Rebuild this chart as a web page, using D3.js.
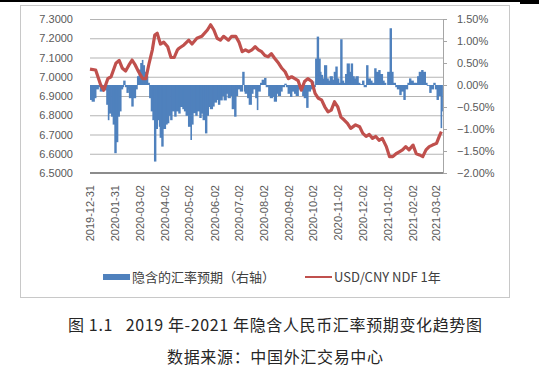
<!DOCTYPE html>
<html>
  <head>
    <meta charset="utf-8">
    <script src="https://cdn.jsdelivr.net/npm/d3@7/dist/d3.min.js"></script>
    <style>
      body { margin: 0; background: #fff; }
      .axis text { fill: #595959; font-family: "Liberation Sans", Arial, sans-serif; font-size: 11px; }
      .grid line { stroke: #b4b4b4; stroke-width: 1.2; }
      .legend text { fill: #404040; font-family: "Noto Sans CJK SC", sans-serif; font-size: 13px; }
      .caption { fill: #262626; font-family: "Noto Sans CJK SC", sans-serif; font-size: 16px; }
    </style>
  </head>
  <body>
    <script>
      // x axis tick labels
      var tickDates = ["2019-12-31", "2020-01-31", "2020-03-02", "2020-04-02", "2020-05-02",
        "2020-06-02", "2020-07-02", "2020-08-02", "2020-09-02", "2020-10-02", "2020-11-02",
        "2020-12-02", "2021-01-02", "2021-02-02", "2021-03-02"];

      // USD/CNY NDF 1y (left axis)
      var lineDates = ["2019-12-31", "2020-01-07", "2020-01-13", "2020-01-17", "2020-01-22", "2020-01-26",
        "2020-02-01", "2020-02-05", "2020-02-09", "2020-02-13", "2020-02-17", "2020-02-21", "2020-02-25",
        "2020-02-29", "2020-03-05", "2020-03-09", "2020-03-13", "2020-03-17", "2020-03-20", "2020-03-23",
        "2020-03-27", "2020-03-31", "2020-04-05", "2020-04-09", "2020-04-13", "2020-04-17", "2020-04-19",
        "2020-04-25", "2020-05-01", "2020-05-05", "2020-05-11", "2020-05-17", "2020-05-24", "2020-05-28",
        "2020-06-01", "2020-06-05", "2020-06-09", "2020-06-13", "2020-06-19", "2020-06-23", "2020-06-28",
        "2020-07-02", "2020-07-06", "2020-07-10", "2020-07-14", "2020-07-18", "2020-07-22", "2020-07-26",
        "2020-07-30", "2020-08-03", "2020-08-07", "2020-08-11", "2020-08-15", "2020-08-20", "2020-08-24",
        "2020-08-28", "2020-09-01", "2020-09-05", "2020-09-09", "2020-09-13", "2020-09-17", "2020-09-21",
        "2020-09-25", "2020-09-30", "2020-10-04", "2020-10-08", "2020-10-12", "2020-10-16", "2020-10-20",
        "2020-10-24", "2020-10-28", "2020-11-01", "2020-11-05", "2020-11-09", "2020-11-13", "2020-11-17",
        "2020-11-23", "2020-11-28", "2020-12-02", "2020-12-06", "2020-12-10", "2020-12-14", "2020-12-18",
        "2020-12-22", "2020-12-26", "2020-12-31", "2021-01-04", "2021-01-08", "2021-01-12", "2021-01-16",
        "2021-01-20", "2021-01-24", "2021-01-28", "2021-02-02", "2021-02-06", "2021-02-10", "2021-02-14",
        "2021-02-18", "2021-02-22", "2021-02-26", "2021-03-03", "2021-03-07", "2021-03-09"];
      var lineValues = [7.040, 7.035, 6.960, 6.930, 6.990, 7.000,
        7.070, 7.085, 7.044, 7.030, 7.060, 7.087, 7.060,
        7.026, 6.990, 6.990, 7.070, 7.140, 7.217, 7.226,
        7.170, 7.180, 7.156, 7.100, 7.100, 7.140, 7.148,
        7.165, 7.190, 7.170, 7.200, 7.210, 7.243, 7.270,
        7.243, 7.200, 7.190, 7.210, 7.190, 7.210, 7.210,
        7.180, 7.130, 7.140, 7.130, 7.140, 7.156, 7.140,
        7.130, 7.110, 7.104, 7.120, 7.096, 7.070, 7.044,
        7.026, 6.990, 7.000, 6.990, 6.980, 6.930, 6.975,
        6.990, 6.975, 6.914, 6.888, 6.880, 6.844, 6.818,
        6.827, 6.870, 6.844, 6.790, 6.775, 6.758, 6.732,
        6.750, 6.740, 6.706, 6.690, 6.700, 6.680, 6.690,
        6.670, 6.680, 6.637, 6.585, 6.585, 6.600, 6.610,
        6.620, 6.637, 6.620, 6.645, 6.600, 6.594, 6.585,
        6.620, 6.637, 6.645, 6.654, 6.697, 6.715];

      // implied expectation, % (right axis)
      var barDates = ["2019-12-31", "2020-01-02", "2020-01-05", "2020-01-07", "2020-01-10", "2020-01-12",
        "2020-01-15", "2020-01-17", "2020-01-20", "2020-01-22", "2020-01-23", "2020-01-26", "2020-01-28",
        "2020-01-30", "2020-02-01", "2020-02-03", "2020-02-05", "2020-02-07", "2020-02-09", "2020-02-10",
        "2020-02-12", "2020-02-14", "2020-02-16", "2020-02-17", "2020-02-20", "2020-02-22", "2020-02-25",
        "2020-02-27", "2020-02-29", "2020-03-02", "2020-03-04", "2020-03-05", "2020-03-07", "2020-03-09",
        "2020-03-11", "2020-03-13", "2020-03-15", "2020-03-17", "2020-03-19", "2020-03-21", "2020-03-23",
        "2020-03-25", "2020-03-26", "2020-03-28", "2020-03-30", "2020-04-02", "2020-04-04", "2020-04-06",
        "2020-04-08", "2020-04-10", "2020-04-13", "2020-04-15", "2020-04-18", "2020-04-20", "2020-04-23",
        "2020-04-25", "2020-04-27", "2020-04-30", "2020-05-03", "2020-05-04", "2020-05-06", "2020-05-09",
        "2020-05-11", "2020-05-14", "2020-05-16", "2020-05-18", "2020-05-21", "2020-05-23", "2020-05-25",
        "2020-05-27", "2020-05-30", "2020-06-01", "2020-06-04", "2020-06-06", "2020-06-08", "2020-06-11",
        "2020-06-13", "2020-06-16", "2020-06-18", "2020-06-21", "2020-06-23", "2020-06-26", "2020-06-28",
        "2020-06-30", "2020-07-03", "2020-07-06", "2020-07-08", "2020-07-09", "2020-07-12", "2020-07-14",
        "2020-07-17", "2020-07-19", "2020-07-22", "2020-07-24", "2020-07-25", "2020-07-28", "2020-07-30",
        "2020-08-02", "2020-08-04", "2020-08-07", "2020-08-09", "2020-08-12", "2020-08-14", "2020-08-17",
        "2020-08-19", "2020-08-22", "2020-08-24", "2020-08-27", "2020-08-29", "2020-08-31", "2020-09-03",
        "2020-09-05", "2020-09-08", "2020-09-10", "2020-09-13", "2020-09-15", "2020-09-18", "2020-09-20",
        "2020-09-23", "2020-09-25", "2020-09-28", "2020-09-30", "2020-10-02", "2020-10-04", "2020-10-06",
        "2020-10-08", "2020-10-10", "2020-10-11", "2020-10-13", "2020-10-15", "2020-10-18", "2020-10-20",
        "2020-10-22", "2020-10-25", "2020-10-27", "2020-10-29", "2020-10-31", "2020-11-02", "2020-11-04",
        "2020-11-06", "2020-11-08", "2020-11-10", "2020-11-12", "2020-11-15", "2020-11-17", "2020-11-19",
        "2020-11-21", "2020-11-23", "2020-11-26", "2020-11-28", "2020-12-01", "2020-12-03", "2020-12-06",
        "2020-12-08", "2020-12-11", "2020-12-13", "2020-12-16", "2020-12-18", "2020-12-21", "2020-12-23",
        "2020-12-26", "2020-12-28", "2020-12-30", "2021-01-01", "2021-01-04", "2021-01-06", "2021-01-08",
        "2021-01-11", "2021-01-13", "2021-01-16", "2021-01-18", "2021-01-21", "2021-01-23", "2021-01-26",
        "2021-01-28", "2021-01-30", "2021-02-02", "2021-02-04", "2021-02-07", "2021-02-09", "2021-02-12",
        "2021-02-14", "2021-02-17", "2021-02-19", "2021-02-22", "2021-02-24", "2021-02-27", "2021-03-01",
        "2021-03-03", "2021-03-05", "2021-03-08", "2021-03-09"];
      var barValues = [-0.34, -0.38, -0.30, -0.10, -0.05, -0.15,
        -0.08, -0.12, -0.45, -0.80, -0.65, -0.72, -0.90,
        -1.55, -1.30, -0.72, -0.60, -0.10, -0.05, 0.10,
        -0.05, -0.18, -0.10, -0.30, -0.49, -0.30, -0.10,
        0.20, 0.35, 0.50, 0.57, 0.45, 0.30, 0.20,
        0.05, -0.30, -0.60, -0.80, -1.74, -1.00, -0.80,
        -0.95, -1.20, -1.40, -1.00, -0.90, -0.87, -0.70,
        -0.80, -0.60, -0.72, -0.60, -0.65, -0.50, -0.55,
        -0.60, -0.70, -0.95, -1.25, -0.90, -0.64, -0.70,
        -0.60, -0.75, -0.65, -0.80, -1.10, -0.70, -0.50,
        -0.55, -0.49, -0.40, -0.34, -0.45, -0.35, -0.25,
        -0.35, -0.20, -0.30, -0.25, -0.55, -0.72, -0.25,
        -0.10, -0.15, 0.30, -0.15, -0.20, -0.30, -0.45,
        -0.20, -0.10, -0.30, -0.57, -0.15, 0.05, 0.12,
        0.16, -0.05, -0.25, -0.30, -0.27, -0.38, -0.20,
        -0.25, -0.15, -0.05, 0.03, -0.05, -0.20, -0.27,
        -0.15, -0.20, -0.25, -0.10, -0.05, -0.25, -0.30,
        -0.52, -0.15, -0.10, 0.08, -0.05, 0.60, 1.10,
        0.60, 0.30, 0.23, 0.15, 0.45, 0.15, 0.10,
        0.20, 0.12, 0.30, 0.42, 0.15, 0.05, 1.04,
        0.10, 0.05, 0.25, 0.49, 0.30, 0.49, 0.20,
        0.15, 0.20, 0.05, 0.02, 0.10, -0.05, 0.45,
        0.15, 0.10, 0.05, 0.38, 0.30, 0.34, 0.25,
        0.10, 0.05, 0.00, 0.30, 1.29, 0.30, 0.05,
        -0.05, -0.10, -0.23, -0.15, -0.34, -0.10, 0.05,
        0.15, 0.10, 0.05, 0.05, 0.20, 0.30, 0.34,
        0.30, 0.05, -0.02, -0.18, -0.10, 0.05, -0.10,
        -0.34, -0.25, -0.98, -0.60];

      var leftTicks = [6.5, 6.6, 6.7, 6.8, 6.9, 7.0, 7.1, 7.2, 7.3];
      var rightTicks = [-2.0, -1.5, -1.0, -0.5, 0.0, 0.5, 1.0, 1.5];

      var parse = d3.utcParse("%Y-%m-%d");
      var plot = {left: 90, right: 443, top: 19, bottom: 173};

      var svg = d3.select("body").append("svg")
          .attr("width", 539)
          .attr("height", 367);

      // page rule and chart frame
      svg.append("rect").attr("x", 0).attr("y", 0).attr("width", 539).attr("height", 2).style("fill", "#000");
      svg.append("rect").attr("x", 520).attr("y", 0).attr("width", 19).attr("height", 4).style("fill", "#000");
      svg.append("rect")
          .attr("x", 20.5).attr("y", 5.5).attr("width", 489).attr("height", 292)
          .style("fill", "none").style("stroke", "#c8c8c8");

      var x = d3.scaleUtc()
          .domain([parse("2019-12-31"), parse("2021-03-11")])
          .range([plot.left, plot.right]);
      var y = d3.scaleLinear().domain([6.5, 7.3]).range([plot.bottom, plot.top]);
      var yR = d3.scaleLinear().domain([-2.0, 1.5]).range([plot.bottom, plot.top]);

      // gridlines
      svg.append("g")
          .attr("class", "grid")
          .attr("transform", "translate(" + plot.left + ",0)")
          .call(d3.axisLeft(y).tickValues(leftTicks.slice(1)).tickSize(-(plot.right - plot.left)).tickFormat(""))
          .call(function(g) { g.select(".domain").remove(); });

      // left axis labels
      svg.append("g")
          .attr("class", "axis")
          .attr("transform", "translate(" + (plot.left - 6) + ",0)")
          .call(d3.axisLeft(y).tickValues(leftTicks).tickSize(0).tickPadding(11).tickFormat(d3.format(".4f")))
          .call(function(g) { g.select(".domain").remove(); });

      // bars
      var bars = barDates.map(function(d, i) { return {date: parse(d), value: barValues[i]}; });
      svg.append("g")
          .selectAll("rect")
          .data(bars)
          .enter().append("rect")
          .attr("x", function(d) { return x(d.date); })
          .attr("width", function(d, i) {
            return i < bars.length - 1 ? x(bars[i + 1].date) - x(d.date) + 0.8 : 1.5;
          })
          .attr("y", function(d) { return Math.min(yR(d.value), yR(0)); })
          .attr("height", function(d) { return Math.abs(yR(d.value) - yR(0)); })
          .style("fill", "#4f81bd");

      // bottom axis line
      svg.append("line")
          .attr("x1", plot.left).attr("x2", plot.right)
          .attr("y1", y(6.5)).attr("y2", y(6.5))
          .style("stroke", "#8c8c8c").style("stroke-width", 2);

      // right axis
      svg.append("g")
          .attr("class", "axis")
          .attr("transform", "translate(" + plot.right + ",0)")
          .call(d3.axisRight(yR).tickValues(rightTicks).tickSize(4).tickPadding(10)
            .tickFormat(function(d) { return d3.format(".2f")(d) + "%"; }))
          .call(function(g) {
            g.select(".domain").style("stroke", "#a6a6a6");
            g.selectAll(".tick line").style("stroke", "#a6a6a6");
          });

      // NDF line
      var lineData = lineDates.map(function(d, i) { return {date: parse(d), value: lineValues[i]}; });
      svg.append("path")
          .datum(lineData)
          .attr("d", d3.line().x(function(d) { return x(d.date); }).y(function(d) { return y(d.value); }))
          .style("fill", "none")
          .style("stroke", "#c0504d")
          .style("stroke-width", 3.2)
          .style("stroke-linejoin", "round");

      // x axis labels
      var xg = svg.append("g").attr("class", "axis");
      xg.selectAll("text")
          .data(tickDates)
          .enter().append("text")
          .attr("transform", function(d) { return "translate(" + x(parse(d)) + ",185) rotate(-90)"; })
          .attr("dy", "0.35em")
          .style("text-anchor", "end")
          .text(function(d) { return d; });

      // legend
      var lg = svg.append("g").attr("class", "legend");
      lg.append("rect").attr("x", 103).attr("y", 274).attr("width", 27).attr("height", 6).style("fill", "#4f81bd");
      lg.append("text").attr("x", 132).attr("y", 282).text("隐含的汇率预期（右轴）");
      lg.append("line").attr("x1", 305).attr("x2", 332).attr("y1", 277).attr("y2", 277)
          .style("stroke", "#c0504d").style("stroke-width", 2);
      lg.append("text").attr("x", 334).attr("y", 282).text("USD/CNY NDF 1年");

      // captions
      svg.append("text").attr("class", "caption")
          .attr("x", 68).attr("y", 331)
          .attr("textLength", 414).attr("lengthAdjust", "spacing")
          .style("white-space", "pre")
          .text("图 1.1   2019 年-2021 年隐含人民币汇率预期变化趋势图");
      svg.append("text").attr("class", "caption")
          .attr("x", 167).attr("y", 363)
          .attr("textLength", 216).attr("lengthAdjust", "spacing")
          .text("数据来源：中国外汇交易中心");
    </script>
  </body>
</html>
